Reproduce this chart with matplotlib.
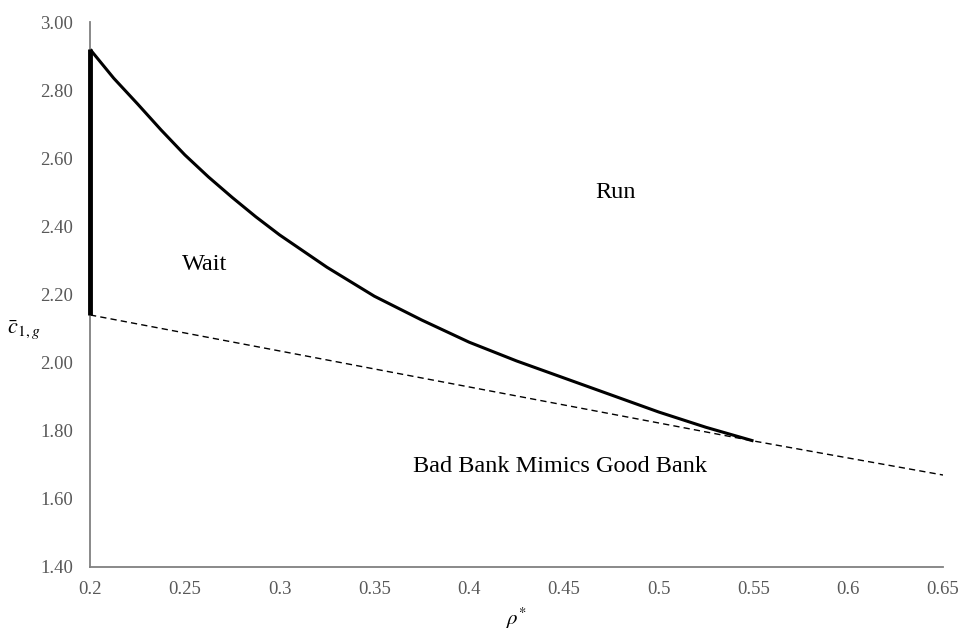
import matplotlib.pyplot as plt

plt.rcParams["font.family"] = ["Liberation Serif", "DejaVu Serif"]
plt.rcParams["mathtext.fontset"] = "stix"

# boundary between Wait and Run regions
rho_curve = [0.2, 0.2125, 0.225, 0.2375, 0.25, 0.2625, 0.275, 0.2875, 0.3,
             0.325, 0.35, 0.375, 0.4, 0.425, 0.45, 0.475, 0.5, 0.525, 0.55]
c_curve = [2.92, 2.835, 2.76, 2.683, 2.61, 2.545, 2.485, 2.428, 2.375,
           2.28, 2.195, 2.125, 2.06, 2.005, 1.955, 1.905, 1.855, 1.81, 1.77]

# mimicking threshold (dashed)
rho_dash = [0.2, 0.55, 0.65]
c_dash = [2.14, 1.77, 1.67]

# vertical segment at rho = 0.2
rho_vert = [0.2, 0.2]
c_vert = [2.14, 2.92]

xticks = [0.2, 0.25, 0.3, 0.35, 0.4, 0.45, 0.5, 0.55, 0.6, 0.65]
xticklabels = ["0.2", "0.25", "0.3", "0.35", "0.4", "0.45", "0.5", "0.55", "0.6", "0.65"]
yticks = [1.4, 1.6, 1.8, 2.0, 2.2, 2.4, 2.6, 2.8, 3.0]

fig = plt.figure(figsize=(9.66, 6.33), dpi=100)
ax = fig.add_axes([0.0932, 0.1043, 0.8830, 0.8609])

ax.plot(rho_dash, c_dash, color="black", lw=1.0, ls=(0, (4.5, 3)))
ax.plot(rho_curve, c_curve, color="black", lw=2.2, solid_capstyle="butt",
        solid_joinstyle="round")
ax.plot(rho_vert, c_vert, color="black", lw=3.5, solid_capstyle="butt",
        clip_on=False, zorder=3)

ax.text(0.477, 2.50, "Run", fontsize=17.5, ha="center", va="center")
ax.text(0.2607, 2.287, "Wait", fontsize=17.5, ha="center", va="center")
ax.text(0.448, 1.694, "Bad Bank Mimics Good Bank", fontsize=17.5,
        ha="center", va="center")

ax.set_xlim(0.2, 0.65)
ax.set_ylim(1.4, 3.0)
ax.set_xticks(xticks)
ax.set_xticklabels(xticklabels)
ax.set_yticks(yticks)
ax.set_yticklabels([f"{v:.2f}" for v in yticks])
ax.tick_params(length=0, labelsize=13.5, colors="#595959")
ax.tick_params(axis="y", pad=12)
ax.tick_params(axis="x", pad=10)

for s in ["top", "right"]:
    ax.spines[s].set_visible(False)
for s in ["left", "bottom"]:
    ax.spines[s].set_color("#808080")
    ax.spines[s].set_linewidth(1.3)

fig.text(516 / 966, 1 - 618 / 633, r"$\rho^{*}$", fontsize=15,
         ha="center", va="center")
fig.text(24 / 966, 1 - 330 / 633, r"$\bar{c}_{1,g}$", fontsize=16,
         ha="center", va="center")

fig.savefig("out.png", dpi=100)
